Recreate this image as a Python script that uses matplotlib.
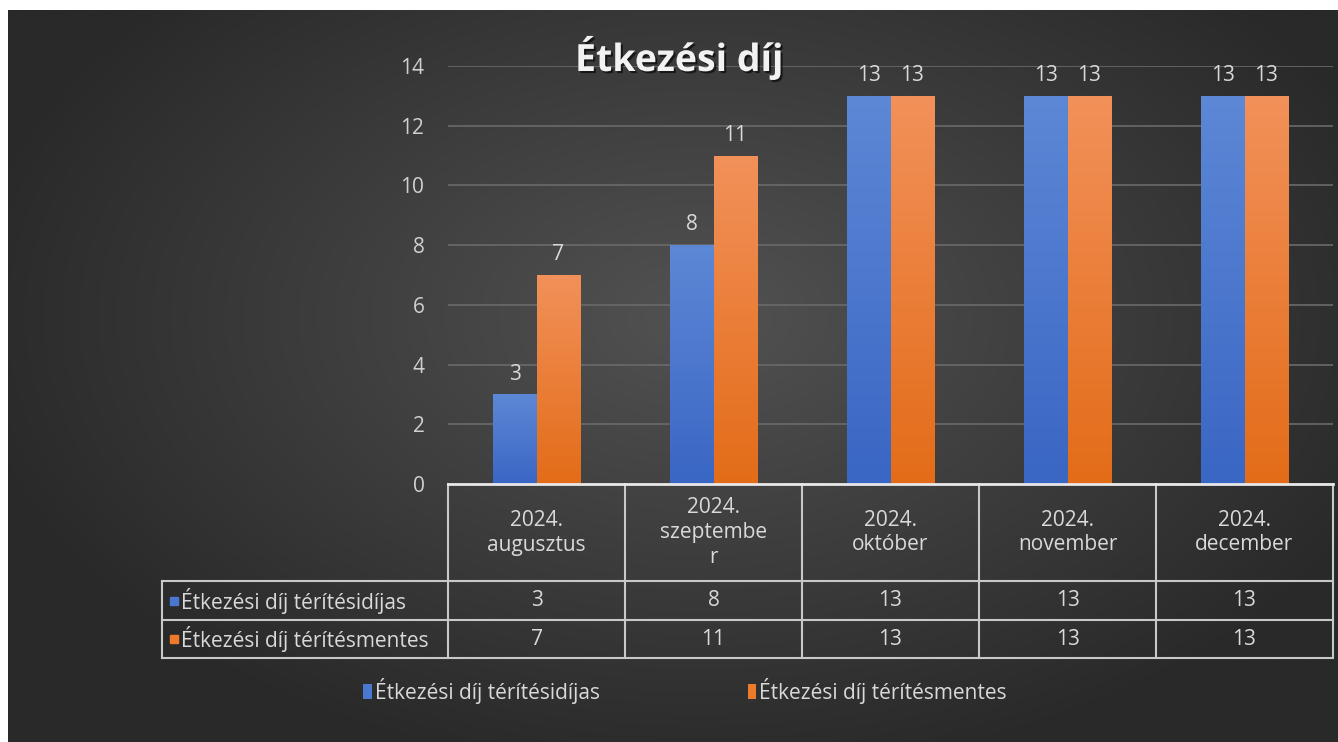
import numpy as np
import matplotlib.pyplot as plt
from matplotlib.patches import Patch
import matplotlib.patheffects as pe
from matplotlib.colors import LinearSegmentedColormap

# ---------------- data ----------------
categories = ["2024.\naugusztus", "2024.\nszeptembe\nr", "2024.\noktóber",
              "2024.\nnovember", "2024.\ndecember"]
series_names = ["Étkezési díj térítésidíjas", "Étkezési díj térítésmentes"]
paid = [3, 8, 13, 13, 13]
free = [7, 11, 13, 13, 13]
yticks = [0, 2, 4, 6, 8, 10, 12, 14]
title = "Étkezési díj"

plt.rcParams['font.family'] = ['Open Sans', 'DejaVu Sans']
FS = 15
TXT = '#d9d9d9'

W, H = 1338, 742
fig = plt.figure(figsize=(W / 100, H / 100), dpi=100)
fig.patch.set_facecolor('white')

# ---------------- background (radial gradient) ----------------
bg = fig.add_axes([8 / W, 0, (W - 8) / W, (H - 10) / H])
bg.set_axis_off()
yy, xx = np.mgrid[0:1:300j, 0:1:500j]
d = np.sqrt(((xx - 0.52) / 0.75) ** 2 + ((yy - 0.42) / 0.85) ** 2)
t = np.clip(d / 0.75, 0, 1)
v = 0x52 * (1 - t) + 0x29 * t
img = np.dstack([v, v, v]) / 255.0
bg.imshow(img, extent=[0, 1, 0, 1], aspect='auto', origin='upper')
bg.set_xlim(0, 1)
bg.set_ylim(0, 1)

# ---------------- main axes ----------------
ax = fig.add_axes([448 / W, 1 - 484 / H, 885 / W, 418 / H])
ax.set_facecolor('none')
x = np.arange(len(categories))
w = 0.243

blue_cmap = LinearSegmentedColormap.from_list('b', ['#3a66c4', '#5d88d6'])
orange_cmap = LinearSegmentedColormap.from_list('o', ['#e36c18', '#f2915a'])

b1 = ax.bar(x - w / 2, paid, w, color='none', zorder=2)
b2 = ax.bar(x + w / 2, free, w, color='none', zorder=2)
grad = np.linspace(0, 1, 256).reshape(-1, 1)
for cont, cmap in ((b1, blue_cmap), (b2, orange_cmap)):
    for bar in cont:
        x0, y0 = bar.get_x(), bar.get_y()
        im = ax.imshow(grad, extent=[x0, x0 + bar.get_width(), y0, y0 + bar.get_height()],
                       origin='lower', aspect='auto', cmap=cmap, zorder=2)
        im.set_clip_path(bar)

for cont, vals in ((b1, paid), (b2, free)):
    for bar, v_ in zip(cont, vals):
        ax.annotate(str(v_), (bar.get_x() + bar.get_width() / 2, v_),
                    xytext=(0, 7), textcoords='offset points', ha='center', va='bottom',
                    color=TXT, fontsize=FS)

ax.set_xlim(-0.5, len(categories) - 0.5)
ax.set_ylim(0, 14)
ax.set_yticks(yticks)
ax.set_xticks([])
ax.tick_params(axis='y', length=0, pad=17, labelcolor='#d0d0d0', labelsize=FS)
ax.grid(axis='y', color='#6a6a6a', linewidth=1.2, zorder=0)
ax.set_axisbelow(True)
for s in ax.spines.values():
    s.set_visible(False)

# ---------------- data table ----------------
tr = ax.get_xaxis_transform()
ax_h = 418
h1, h2, h3 = -97 / ax_h, -136 / ax_h, -174 / ax_h
label_left = -0.5 - 286 / 177
lc = '#c8c8c8'
lw = 1.5
n = len(categories)
ax.plot([-0.5, n - 0.5], [0, 0], color='#e8e8e8', lw=2, transform=tr, clip_on=False, zorder=3)
for yv in (h1, h2, h3):
    ax.plot([label_left, n - 0.5], [yv, yv], color=lc, lw=lw, transform=tr, clip_on=False)
for xv in np.arange(n + 1) - 0.5:
    ax.plot([xv, xv], [0, h3], color=lc, lw=lw, transform=tr, clip_on=False)
ax.plot([label_left, label_left], [h1, h3], color=lc, lw=lw, transform=tr, clip_on=False)

for i, cat in enumerate(categories):
    ax.text(i, h1 / 2, cat, ha='center', va='center', color=TXT, fontsize=FS,
            linespacing=1.25, transform=tr)
    ax.text(i, (h1 + h2) / 2, str(paid[i]), ha='center', va='center', color=TXT,
            fontsize=FS, transform=tr)
    ax.text(i, (h2 + h3) / 2, str(free[i]), ha='center', va='center', color=TXT,
            fontsize=FS, transform=tr)

series_colors = ['#4a78d0', '#ee7a2c']
for (yc, name, col) in (((h1 + h2) / 2, series_names[0], series_colors[0]),
                        ((h2 + h3) / 2, series_names[1], series_colors[1])):
    ax.plot([label_left + 12 / 177], [yc], marker='s', markersize=6, color=col,
            transform=tr, clip_on=False)
    ax.text(label_left + 19 / 177, yc, name, ha='left', va='center', color=TXT,
            fontsize=FS, transform=tr)

# ---------------- title ----------------
fig.text(679 / W, 1 - 58 / H, title, ha='center', va='center', color='#f2f2f2',
         fontsize=27, fontweight='bold',
         path_effects=[pe.withSimplePatchShadow(offset=(1.5, -1.5), shadow_rgbFace='black', alpha=0.6)])

# ---------------- legend ----------------
handles = [Patch(facecolor=c) for c in series_colors]
fig.legend(handles, series_names, loc='center', bbox_to_anchor=(685 / W, 1 - 691 / H),
           ncol=2, frameon=False, handlelength=0.4, handleheight=0.7, handletextpad=0.15,
           columnspacing=7.1, labelcolor=TXT, fontsize=FS)

fig.savefig('out.png', dpi=100, facecolor=fig.get_facecolor())
